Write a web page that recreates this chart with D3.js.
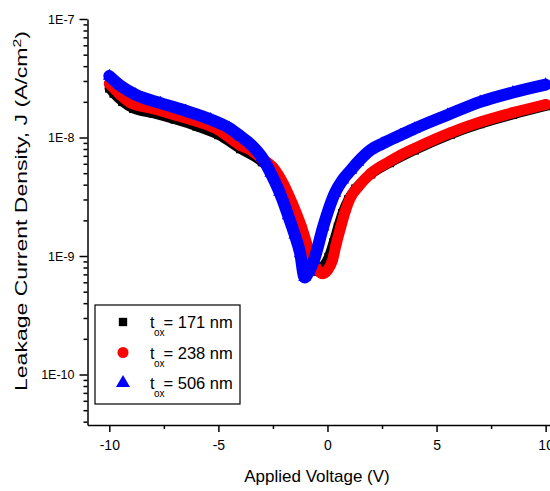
<!DOCTYPE html>
<html lang="en">
<head>
    <meta charset="UTF-8">
    <title>Leakage Current Density vs Applied Voltage</title>
    <script src="https://cdn.jsdelivr.net/npm/d3@7"></script>
    <style>
        body {
            margin: 0;
            background: #fff;
        }
        svg text {
            font-family: "Liberation Sans", Arial, sans-serif;
            fill: #000;
        }
        .axis path, .axis line {
            stroke: #000;
            stroke-width: 1.5;
        }
    </style>
</head>
<body>
    <svg id="chart" width="550" height="491"></svg>

    <script>
        // values (V in volts, J in A/cm2)
        const v171 = [-10, -9.8, -9.4, -8.9, -8, -7, -6, -5, -4, -3, -2.5, -2.1, -1.7, -1.36, -0.95, -0.7, -0.45, -0.2, 0.05, 0.27, 0.48, 0.68, 0.95, 1.28, 2, 2.86, 4, 5.65, 7, 8.5, 10];
        const j171 = [2.6e-8, 2.35e-8, 2.0e-8, 1.75e-8, 1.6e-8, 1.42e-8, 1.24e-8, 1.05e-8, 8.0e-9, 6.2e-9, 5.1e-9, 3.8e-9, 2.6e-9, 1.9e-9, 1.06e-9, 8.2e-10, 7.4e-10, 8.2e-10, 9.8e-10, 1.3e-9, 1.76e-9, 2.3e-9, 3.0e-9, 3.7e-9, 4.9e-9, 6.1e-9, 7.8e-9, 1.06e-8, 1.3e-8, 1.56e-8, 1.84e-8];

        const v238 = [-10, -9.5, -9, -8, -7, -6, -5, -4, -3.5, -3, -2.5, -2, -1.6, -1.2, -0.8, -0.5, -0.22, 0, 0.22, 0.4, 0.61, 0.8, 1.07, 1.39, 2, 2.86, 3.36, 4, 5.65, 7, 8.5, 10];
        const j238 = [2.85e-8, 2.3e-8, 1.95e-8, 1.75e-8, 1.55e-8, 1.37e-8, 1.16e-8, 8.6e-9, 7.8e-9, 6.6e-9, 5.6e-9, 4.0e-9, 2.75e-9, 1.78e-9, 1.05e-9, 7.9e-10, 7.1e-10, 7.6e-10, 9.1e-10, 1.26e-9, 1.76e-9, 2.34e-9, 3.16e-9, 3.8e-9, 5.0e-9, 6.3e-9, 7.1e-9, 8.1e-9, 1.1e-8, 1.35e-8, 1.62e-8, 1.9e-8];

        const v506 = [-10, -9.5, -8.8, -7.65, -6.5, -5.35, -4.5, -4, -3.5, -3, -2.6, -2.2, -1.8, -1.5, -1.25, -1.05, -0.85, -0.62, -0.2, 0.34, 0.7, 1.07, 1.39, 2, 2.5, 3.36, 4, 5.5, 7, 8.5, 10];
        const j506 = [3.3e-8, 2.75e-8, 2.3e-8, 1.95e-8, 1.68e-8, 1.42e-8, 1.2e-8, 1.03e-8, 8.7e-9, 6.8e-9, 5.0e-9, 3.47e-9, 2.19e-9, 1.51e-9, 1.05e-9, 6.6e-10, 7.4e-10, 9.2e-10, 1.76e-9, 3.4e-9, 4.4e-9, 5.3e-9, 6.2e-9, 7.9e-9, 8.85e-9, 1.05e-8, 1.19e-8, 1.55e-8, 2.0e-8, 2.4e-8, 2.79e-8];

        const seriesNames = ["171", "238", "506"];
        const seriesColors = ["#000000", "#ff0000", "#0000ff"];
        const xTicks = [-10, -5, 0, 5, 10];
        const xMinorTicks = [-7.5, -2.5, 2.5, 7.5];
        const yTicks = [1e-10, 1e-9, 1e-8, 1e-7];

        const series = [
            { name: seriesNames[0], color: seriesColors[0], shape: d3.symbolSquare, size: 70, mark: 72, width: 9.5, v: v171, j: j171 },
            { name: seriesNames[1], color: seriesColors[1], shape: d3.symbolCircle, size: 95, mark: 90, width: 11, v: v238, j: j238 },
            { name: seriesNames[2], color: seriesColors[2], shape: d3.symbolTriangle, size: 85, mark: 70, width: 12, v: v506, j: j506 }
        ];

        const svg = d3.select("#chart");

        const x = d3.scaleLinear().domain([-11, 10.2]).range([87.5, 550]);
        const y = d3.scaleLog().domain([3.75e-11, 1e-7]).range([425, 19]);

        // minor y ticks: 2..9 of each decade inside the domain
        const yMinorTicks = [];
        [1e-11, 1e-10, 1e-9, 1e-8].forEach(d => {
            for (let k = 2; k <= 9; k++) {
                const t = d * k;
                if (t >= 3.75e-11 && t <= 1e-7) yMinorTicks.push(t);
            }
        });

        // curves
        const line = d3.line()
            .x(d => x(d[0]))
            .y(d => y(d[1]))
            .curve(d3.curveMonotoneX);

        series.forEach(s => {
            const pts = s.v.map((v, i) => [v, s.j[i]]);
            svg.append("path")
                .datum(pts)
                .attr("d", line)
                .attr("fill", "none")
                .attr("stroke", s.color)
                .attr("stroke-width", s.width)
                .attr("stroke-linejoin", "round")
                .attr("stroke-linecap", "round");
            svg.append("g").selectAll("path")
                .data(pts)
                .join("path")
                .attr("transform", d => `translate(${x(d[0])},${y(d[1])})`)
                .attr("d", d3.symbol().type(s.shape).size(s.mark))
                .attr("fill", s.color);
        });

        const hyphen = s => String(s).replace("\u2212", "-");

        // axes
        svg.append("g")
            .attr("class", "axis")
            .attr("transform", "translate(0,425)")
            .call(d3.axisBottom(x).tickValues(xMinorTicks).tickSize(4).tickSizeOuter(0).tickFormat(""))
            .call(g => g.select(".domain").remove());

        svg.append("g")
            .attr("class", "axis")
            .attr("transform", "translate(0,425)")
            .call(d3.axisBottom(x).tickValues(xTicks).tickSize(7).tickSizeOuter(0).tickPadding(8).tickFormat(d => hyphen(d)))
            .call(g => g.selectAll("text").attr("font-size", "14px").attr("font-family", null));

        svg.append("g")
            .attr("class", "axis")
            .attr("transform", "translate(87.5,0)")
            .call(d3.axisLeft(y).tickValues(yMinorTicks).tickSize(4).tickSizeOuter(0).tickFormat(""))
            .call(g => g.select(".domain").remove());

        svg.append("g")
            .attr("class", "axis")
            .attr("transform", "translate(87.5,0)")
            .call(d3.axisLeft(y).tickValues(yTicks).tickSize(8).tickSizeOuter(0).tickPadding(5)
                .tickFormat(d => "1E-" + Math.round(-Math.log10(d))))
            .call(g => g.selectAll("text").attr("font-size", "12.5px").attr("font-family", null));

        // axis titles
        svg.append("text")
            .attr("x", 317)
            .attr("y", 482)
            .attr("text-anchor", "middle")
            .attr("font-size", "17px")
            .text("Applied Voltage (V)");

        const yTitle = svg.append("text")
            .attr("transform", "translate(27,211) rotate(-90)")
            .attr("text-anchor", "middle")
            .attr("font-size", "16px")
            .attr("textLength", 360)
            .attr("lengthAdjust", "spacingAndGlyphs");
        yTitle.append("tspan").text("Leakage Current Density, J (A/cm");
        yTitle.append("tspan").attr("dy", -6).attr("font-size", "11px").text("2");
        yTitle.append("tspan").attr("dy", 6).text(")");

        // legend
        const legend = svg.append("g");
        legend.append("rect")
            .attr("x", 95).attr("y", 305)
            .attr("width", 145).attr("height", 99)
            .attr("fill", "#fff")
            .attr("stroke", "#000")
            .attr("stroke-width", 1.2);

        series.forEach((s, i) => {
            const cy = 322 + i * 30.5;
            legend.append("path")
                .attr("transform", `translate(123,${cy})`)
                .attr("d", d3.symbol().type(s.shape).size(s.size))
                .attr("fill", s.color);
            const t = legend.append("text")
                .attr("x", 150).attr("y", cy + 6)
                .attr("font-size", "16px");
            t.append("tspan").text("t");
            t.append("tspan").attr("dy", 8).attr("dx", -0.5).attr("font-size", "10px").text("ox");
            t.append("tspan").attr("dy", -8).attr("dx", -1).attr("font-size", "16.5px").text(`= ${s.name} nm`);
        });
    </script>
</body>
</html>
